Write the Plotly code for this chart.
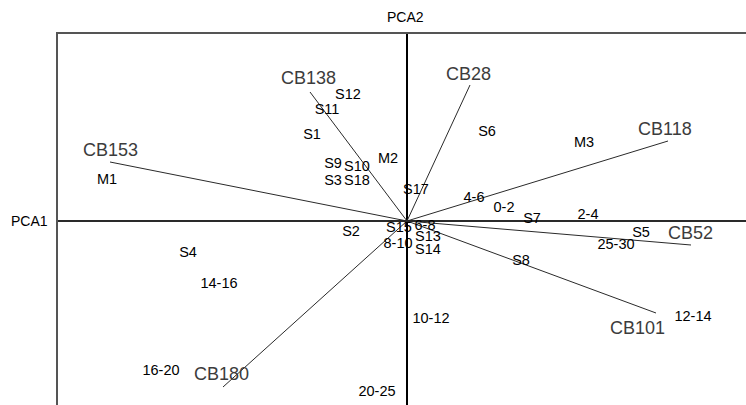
import plotly.graph_objects as go

# Variable loadings (end points of the biplot vectors)
var_names = ["CB153", "CB138", "CB28", "CB118", "CB52", "CB101", "CB180"]
var_pc1 = [-2.97, -0.97, 0.63, 2.61, 2.84, 2.49, -1.84]
var_pc2 = [0.59, 1.29, 1.36, 0.80, -0.24, -0.92, -1.66]

# Observation scores (sites, months and depth classes)
obs_names = ["S1", "S2", "S3", "S4", "S5", "S6", "S7", "S8", "S9", "S10",
             "S11", "S12", "S13", "S14", "S15", "S17", "S18",
             "M1", "M2", "M3",
             "0-2", "2-4", "4-6", "6-8", "8-10", "10-12", "12-14",
             "14-16", "16-20", "20-25", "25-30"]
obs_pc1 = [-0.95, -0.56, -0.74, -2.19, 2.34, 0.80, 1.25, 1.14, -0.74, -0.50,
           -0.80, -0.59, 0.21, 0.21, -0.08, 0.09, -0.50,
           -3.00, -0.19, 1.77,
           0.97, 1.81, 0.67, 0.18, -0.09, 0.24, 2.86,
           -1.88, -2.46, -0.30, 2.09]
obs_pc2 = [0.86, -0.11, 0.40, -0.32, -0.12, 0.89, 0.02, -0.40, 0.57, 0.54,
           1.11, 1.26, -0.16, -0.29, -0.07, 0.31, 0.40,
           0.41, 0.62, 0.78,
           0.13, 0.06, 0.23, -0.05, -0.23, -0.98, -0.96,
           -0.63, -1.50, -1.71, -0.24]

# Offsets (px) of vector labels from the vector tips
label_dx = [0, -2, -2, -3, -1, -19, -2]
label_dy = [12, 14, 11, 12, 12, -15, 13]

W, H = 746, 405
X_RANGE = [-3.49, 3.39]
Y_RANGE = [-1.84, 1.87]

fig = go.Figure()

# Vectors from the origin
for name, x, y in zip(var_names, var_pc1, var_pc2):
    fig.add_trace(go.Scatter(
        x=[0, x], y=[0, y], mode="lines",
        line=dict(color="#2a2a2a", width=1),
        hoverinfo="skip", showlegend=False,
    ))

# Observation labels
fig.add_trace(go.Scatter(
    x=obs_pc1, y=obs_pc2, mode="text", text=obs_names,
    textposition="middle center",
    textfont=dict(family="Liberation Sans, Arial", size=14.5, color="#000"),
    hoverinfo="text", showlegend=False,
))

annotations = []
for name, x, y, dx, dy in zip(var_names, var_pc1, var_pc2, label_dx, label_dy):
    annotations.append(dict(
        x=x, y=y, xref="x", yref="y", text=name, showarrow=False,
        xanchor="center", yanchor="middle", xshift=dx, yshift=dy,
        font=dict(family="Liberation Sans, Arial", size=18, color="#3c3c3c"),
    ))

# Axis titles
annotations.append(dict(
    x=-0.0407, y=0, xref="paper", yref="y", text="PCA1", showarrow=False,
    xanchor="center", yanchor="middle",
    font=dict(family="Liberation Sans, Arial", size=14, color="#000"),
))
annotations.append(dict(
    x=-0.015, y=1.0458, xref="x", yref="paper", text="PCA2", showarrow=False,
    xanchor="center", yanchor="middle",
    font=dict(family="Liberation Sans, Arial", size=14, color="#000"),
))

fig.update_layout(
    width=W, height=H,
    margin=dict(l=58, r=0, t=34, b=0, pad=0),
    paper_bgcolor="white", plot_bgcolor="white",
    annotations=annotations,
    xaxis=dict(range=X_RANGE, side="top", showgrid=False, showticklabels=False,
               ticks="", showline=True, linecolor="#555", linewidth=2,
               zeroline=True, zerolinecolor="#000", zerolinewidth=2,
               fixedrange=True),
    yaxis=dict(range=Y_RANGE, showgrid=False, showticklabels=False,
               ticks="", showline=True, linecolor="#555", linewidth=2,
               zeroline=True, zerolinecolor="#2a2a2a", zerolinewidth=1.5,
               fixedrange=True),
)

fig.write_html("out.html", config={"displayModeBar": False})
